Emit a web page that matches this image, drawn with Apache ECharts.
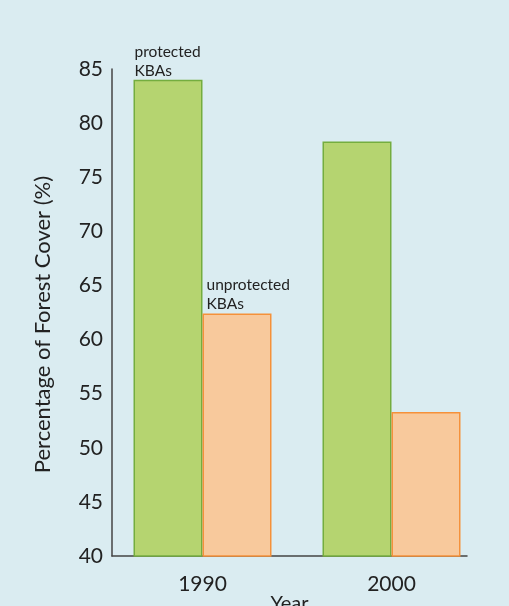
<!DOCTYPE html>
<html>
<head>
<meta charset="utf-8">
<script src="https://cdn.jsdelivr.net/npm/echarts@6/dist/echarts.min.js"></script>
<style>
  html, body { margin: 0; padding: 0; background: #daecf1; }
  #chart { width: 509px; height: 606px; }
</style>
</head>
<body>
<div id="chart"></div>
<script>
    var years = ['1990', '2000'];
    var protectedKBA = [84.0, 78.3];
    var unprotectedKBA = [62.4, 53.3];
    var yTicks = { min: 40, max: 85, step: 5 };

    var font = 'Lato';
    var dark = '#222222';

    var myChart = echarts.init(document.getElementById('chart'));
    myChart.setOption({
        backgroundColor: '#daecf1',
        animation: false,
        grid: [
            // bars live here
            { left: 108, width: 378, top: 69, height: 487, containLabel: false, outerBoundsMode: 'none' },
            // visible axes live here
            { left: 112, width: 355, top: 69, height: 487, containLabel: false, outerBoundsMode: 'none' }
        ],
        xAxis: [
            {
                gridIndex: 0,
                type: 'category',
                data: years,
                axisLine: { show: false },
                axisTick: { show: false },
                axisLabel: { fontFamily: font, fontSize: 21, color: dark, margin: 18 }
            },
            {
                gridIndex: 1,
                type: 'category',
                data: years,
                name: 'Year',
                nameLocation: 'middle',
                nameGap: 38,
                nameTextStyle: { fontFamily: font, fontSize: 20, color: dark },
                axisLine: { lineStyle: { color: '#444', width: 1.5 } },
                axisTick: { show: false },
                axisLabel: { show: false }
            }
        ],
        yAxis: [
            {
                gridIndex: 0,
                type: 'value',
                min: yTicks.min,
                max: yTicks.max,
                interval: yTicks.step,
                show: false
            },
            {
                gridIndex: 1,
                type: 'value',
                min: yTicks.min,
                max: yTicks.max,
                interval: yTicks.step,
                name: 'Percentage of Forest Cover (%)',
                nameLocation: 'middle',
                nameGap: 58,
                nameTextStyle: { fontFamily: font, fontSize: 22, color: dark, padding: [0, 24, 0, 0] },
                axisLine: { show: true, lineStyle: { color: '#444', width: 1.5 } },
                axisTick: { show: false },
                splitLine: { show: false },
                axisLabel: { fontFamily: font, fontSize: 21, color: dark, margin: 9 }
            }
        ],
        series: [
            {
                name: 'protected KBAs',
                type: 'bar',
                xAxisIndex: 0,
                yAxisIndex: 0,
                barWidth: 69,
                barGap: '0%',
                itemStyle: { color: '#b5d470', borderColor: '#74ad3f', borderWidth: 1.5 },
                data: protectedKBA.map(function (v, i) {
                    return i === 0 ? {
                        value: v,
                        label: {
                            show: true,
                            formatter: 'protected\nKBAs',
                            position: [1, 1],
                            verticalAlign: 'bottom',
                            align: 'left',
                            fontFamily: font,
                            fontSize: 15.5,
                            lineHeight: 19,
                            color: dark
                        }
                    } : v;
                })
            },
            {
                name: 'unprotected KBAs',
                type: 'bar',
                xAxisIndex: 0,
                yAxisIndex: 0,
                barWidth: 69,
                itemStyle: { color: '#f8c99c', borderColor: '#f5913a', borderWidth: 1.5 },
                data: unprotectedKBA.map(function (v, i) {
                    return i === 0 ? {
                        value: v,
                        label: {
                            show: true,
                            formatter: 'unprotected\nKBAs',
                            position: [4, 0],
                            verticalAlign: 'bottom',
                            align: 'left',
                            fontFamily: font,
                            fontSize: 15.5,
                            lineHeight: 19,
                            color: dark
                        }
                    } : v;
                })
            }
        ]
    });
</script>
</body>
</html>
